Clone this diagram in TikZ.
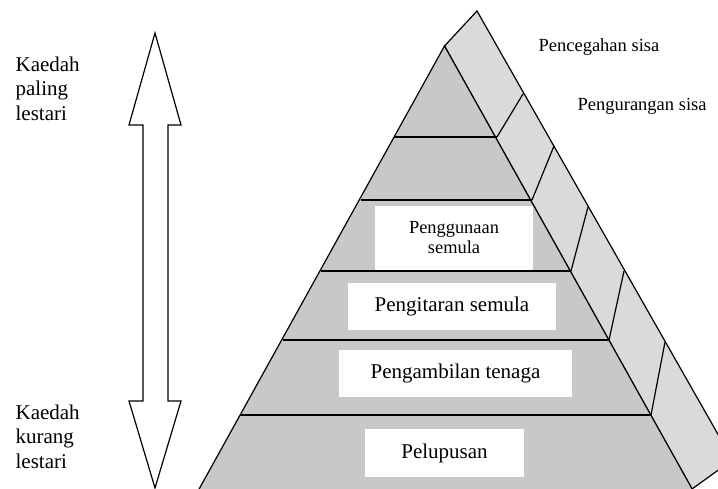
\documentclass[tikz,border=0pt]{standalone}
\usepackage{fontspec}
\setmainfont{Liberation Serif}
\usepackage{tikz}
\usetikzlibrary{positioning}

\definecolor{depan}{RGB}{200,200,200}
\definecolor{sisi}{RGB}{218,218,218}

\begin{document}
\begin{tikzpicture}[x=1pt,y=-1pt,
            line width=1.2pt,line join=miter,
            kotak/.style={draw=none,fill=white,inner sep=0,align=center,font=\fontsize{21}{24}\selectfont},
            lab/.style={inner sep=0,align=left,font=\fontsize{21}{24.3}\selectfont},
            sisilab/.style={inner sep=0,font=\fontsize{18.5}{21}\selectfont}
          ]
          \useasboundingbox (0,0) rectangle (718,489);

          \begin{scope}
          \clip (0,0) rectangle (718,489);
          %side band
          \draw[fill=sisi] (477,11) -- (732.5,459.8) -- (692,489) -- (444.5,46) -- cycle;
          \draw (497,137) -- (523,94)
                (532,200) -- (554,146)
                (571,271) -- (588,207)
                (609,340) -- (624,271)
                (651,415) -- (665,342);

          %front
          \draw[fill=depan] (444.5,46) -- (195.8,495) -- (695.5,495) -- cycle;
          \draw (394,137) -- (497,137)
                (361,200) -- (532,200)
                (321,271) -- (571,271)
                (283,340) -- (609,340)
                (240,415) -- (651,415);
          \end{scope}

          %boxes
          \node[kotak,minimum width=158,minimum height=64,font=\fontsize{18.4}{20}\selectfont] (guna) at (454,238) {Penggunaan\\semula};
          \node[kotak,minimum width=208,minimum height=47] (kitar) at (452,306.5) {Pengitaran semula};
          \node[kotak,minimum width=233,minimum height=47] (ambil) at (455.5,373.5) {Pengambilan tenaga};
          \node[kotak,minimum width=159,minimum height=48] (lupus) at (444.5,453) {Pelupusan};

          %labels
          \node[sisilab,anchor=base west] (cegah) at (538,52) {Pencegahan sisa};
          \node[sisilab,anchor=base west] (kurang) at (577,111) {Pengurangan sisa};
          \node[lab,anchor=north west] (atas) at (15,56.5) {Kaedah\\paling\\lestari};
          \node[lab,anchor=north west] (bawah) at (15,404.5) {Kaedah\\kurang\\lestari};

          %arrow
          \draw[fill=white] (155,33) -- (181,125) -- (168,125) -- (168,401) -- (181,401)
                -- (155,488) -- (129,401) -- (143,401) -- (143,125) -- (129,125) -- cycle;
      \end{tikzpicture}
\end{document}
